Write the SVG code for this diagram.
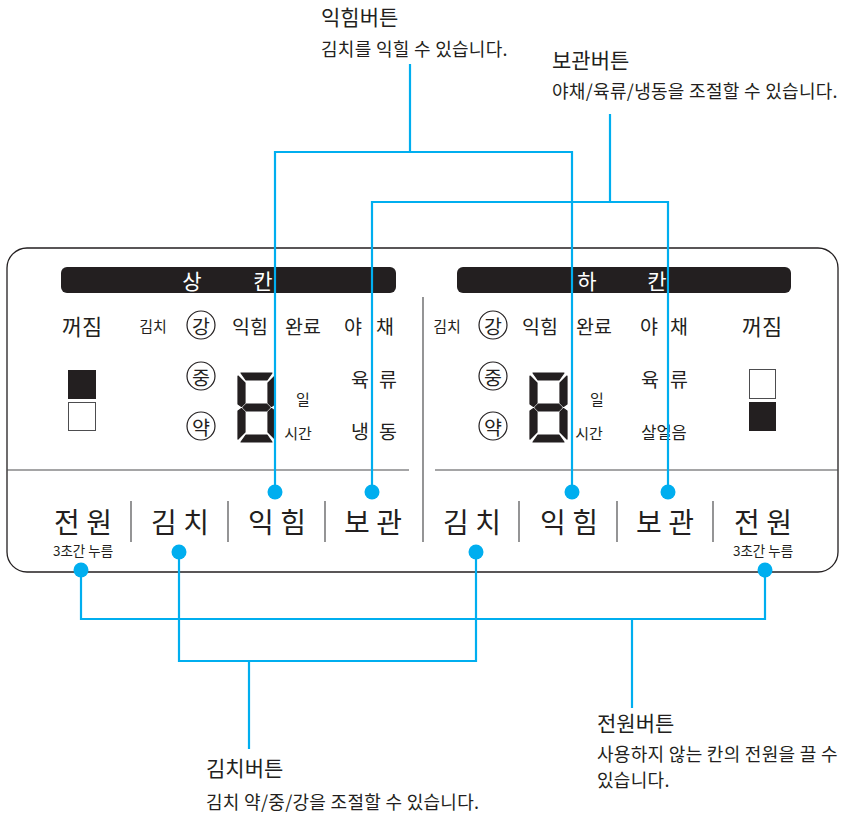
<svg xmlns="http://www.w3.org/2000/svg" width="841" height="814" viewBox="0 0 841 814">
<defs>
<style>
text{font-family:"Noto Sans CJK KR","Noto Sans",sans-serif;fill:#231f20;dominant-baseline:central}
.m{text-anchor:middle}
.t{font-size:21px}
.d{font-size:18px;letter-spacing:0.3px}
.lb{font-size:19.5px}
.sm{font-size:15px}
.btn{font-size:28px}
.note{font-size:13.5px}
.hd{font-size:21px;fill:#fff}
.edge{fill:none;stroke:#231f20;stroke-width:1.3}
.rule{fill:none;stroke:#4d4d4f;stroke-width:1.2}
.bar{fill:#231f20}
.ring{fill:none;stroke:#231f20;stroke-width:1.2}
.conn{fill:none;stroke:#00aeef;stroke-width:2.2}
.dot{fill:#00aeef}
.seg{fill:#231f20;stroke:#231f20;stroke-width:1.2;stroke-linejoin:round}
</style>
<g id="digit8">
<polygon class="seg" points="3,0 34,0 29,7 8,7"/>
<polygon class="seg" points="0,3 7,10 7,30 3.5,33.5 0,31"/>
<polygon class="seg" points="37,3 30,10 30,30 33.5,33.5 37,31"/>
<polygon class="seg" points="5,34.5 8.5,31 28.5,31 32,34.5 28.5,38 8.5,38"/>
<polygon class="seg" points="0,38 3.5,35.5 7,39 7,59 0,66"/>
<polygon class="seg" points="37,38 33.5,35.5 30,39 30,59 37,66"/>
<polygon class="seg" points="3,69 34,69 29,62 8,62"/>
</g>
</defs>

<g id="panel">
<rect class="edge" x="7" y="248" width="831" height="324" rx="20"/>
<line class="rule" x1="7" y1="470" x2="409" y2="470"/>
<line class="rule" x1="435" y1="470" x2="838" y2="470"/>
<line class="rule" x1="423" y1="297" x2="423" y2="542"/>
<line class="rule" x1="131" y1="501" x2="131" y2="542"/>
<line class="rule" x1="228" y1="501" x2="228" y2="542"/>
<line class="rule" x1="325" y1="501" x2="325" y2="542"/>
<line class="rule" x1="519" y1="501" x2="519" y2="542"/>
<line class="rule" x1="617" y1="501" x2="617" y2="542"/>
<line class="rule" x1="713" y1="501" x2="713" y2="542"/>
</g>

<g id="upper-display">
<rect class="bar" x="61" y="267" width="335" height="26" rx="6"/>
<text class="hd m" x="192" y="280">상</text>
<text class="hd m" x="263" y="280">칸</text>
<text class="lb m" x="82" y="325" style="font-size:22px">꺼짐</text>
<text class="sm m" x="153" y="325">김치</text>
<circle class="ring" cx="201" cy="325" r="14"/>
<text class="lb m" x="201" y="325">강</text>
<circle class="ring" cx="201" cy="376" r="14"/>
<text class="lb m" x="201" y="376">중</text>
<circle class="ring" cx="201" cy="426" r="14"/>
<text class="lb m" x="201" y="426">약</text>
<text class="lb m" x="250" y="325">익힘</text>
<text class="lb m" x="303" y="325">완료</text>
<text class="lb m" x="353" y="325">야</text>
<text class="lb m" x="385" y="325">채</text>
<text class="lb m" x="360" y="378">육</text>
<text class="lb m" x="388" y="378">류</text>
<text class="lb m" x="360" y="430">냉</text>
<text class="lb m" x="388" y="430">동</text>
<use href="#digit8" x="238" y="373"/>
<text class="sm m" x="303" y="398">일</text>
<text class="sm m" x="298" y="432">시간</text>
<rect x="68" y="370" width="28" height="29" fill="#231f20"/>
<rect x="68.5" y="402.5" width="27" height="28" fill="#fff" stroke="#4d4d4f" stroke-width="1"/>
</g>

<g id="lower-display">
<rect class="bar" x="457" y="267" width="334" height="26" rx="6"/>
<text class="hd m" x="587" y="280">하</text>
<text class="hd m" x="657" y="280">칸</text>
<text class="sm m" x="447" y="325">김치</text>
<circle class="ring" cx="493" cy="325" r="14"/>
<text class="lb m" x="493" y="325">강</text>
<circle class="ring" cx="493" cy="376" r="14"/>
<text class="lb m" x="493" y="376">중</text>
<circle class="ring" cx="493" cy="426" r="14"/>
<text class="lb m" x="493" y="426">약</text>
<text class="lb m" x="540" y="325">익힘</text>
<text class="lb m" x="594" y="325">완료</text>
<text class="lb m" x="649" y="325">야</text>
<text class="lb m" x="679" y="325">채</text>
<text class="lb m" x="650" y="378">육</text>
<text class="lb m" x="679" y="378">류</text>
<text class="lb m" x="664" y="432" style="font-size:16.5px">살얼음</text>
<text class="lb m" x="762" y="325" style="font-size:22px">꺼짐</text>
<use href="#digit8" x="530" y="373"/>
<text class="sm m" x="597" y="398">일</text>
<text class="sm m" x="589" y="432">시간</text>
<rect x="749.5" y="369.5" width="26" height="29" fill="#fff" stroke="#4d4d4f" stroke-width="1"/>
<rect x="749" y="402" width="27" height="29" fill="#231f20"/>
</g>

<g id="buttons">
<text class="btn m" x="83" y="521">전 원</text>
<text class="note m" x="83" y="550">3초간 누름</text>
<text class="btn m" x="180" y="521">김 치</text>
<text class="btn m" x="277" y="521">익 힘</text>
<text class="btn m" x="373" y="521">보 관</text>
<text class="btn m" x="472" y="521">김 치</text>
<text class="btn m" x="569" y="521">익 힘</text>
<text class="btn m" x="665" y="521">보 관</text>
<text class="btn m" x="763" y="521">전 원</text>
<text class="note m" x="763" y="550">3초간 누름</text>
</g>

<g id="callout-ripen">
<text class="t" x="321" y="16">익힘버튼</text>
<text class="d" x="321" y="48">김치를 익힐 수 있습니다.</text>
</g>
<g id="callout-store">
<text class="t" x="552" y="59">보관버튼</text>
<text class="d" x="552" y="90">야채/육류/냉동을 조절할 수 있습니다.</text>
</g>
<g id="callout-kimchi">
<text class="t" x="206" y="767">김치버튼</text>
<text class="d" x="206" y="801">김치 약/중/강을 조절할 수 있습니다.</text>
</g>
<g id="callout-power">
<text class="t" x="597" y="722">전원버튼</text>
<text class="d" x="597" y="753">사용하지 않는 칸의 전원을 끌 수<tspan x="597" y="779">있습니다.</tspan></text>
</g>

<g id="connectors">
<path class="conn" d="M410,64 V152 M275,492 V152 H572 V492"/>
<path class="conn" d="M610,114 V202 M372,492 V202 H668 V492"/>
<path class="conn" d="M81,570 V619 H765 V570 M632,619 V708"/>
<path class="conn" d="M179,552 V661 H476 V552 M249,661 V749"/>
<circle class="dot" cx="275" cy="492" r="7.5"/>
<circle class="dot" cx="372" cy="492" r="7.5"/>
<circle class="dot" cx="572" cy="492" r="7.5"/>
<circle class="dot" cx="668" cy="492" r="7.5"/>
<circle class="dot" cx="179" cy="552" r="7.5"/>
<circle class="dot" cx="476" cy="552" r="7.5"/>
<circle class="dot" cx="81" cy="570" r="7.5"/>
<circle class="dot" cx="765" cy="570" r="7.5"/>
</g>
</svg>
